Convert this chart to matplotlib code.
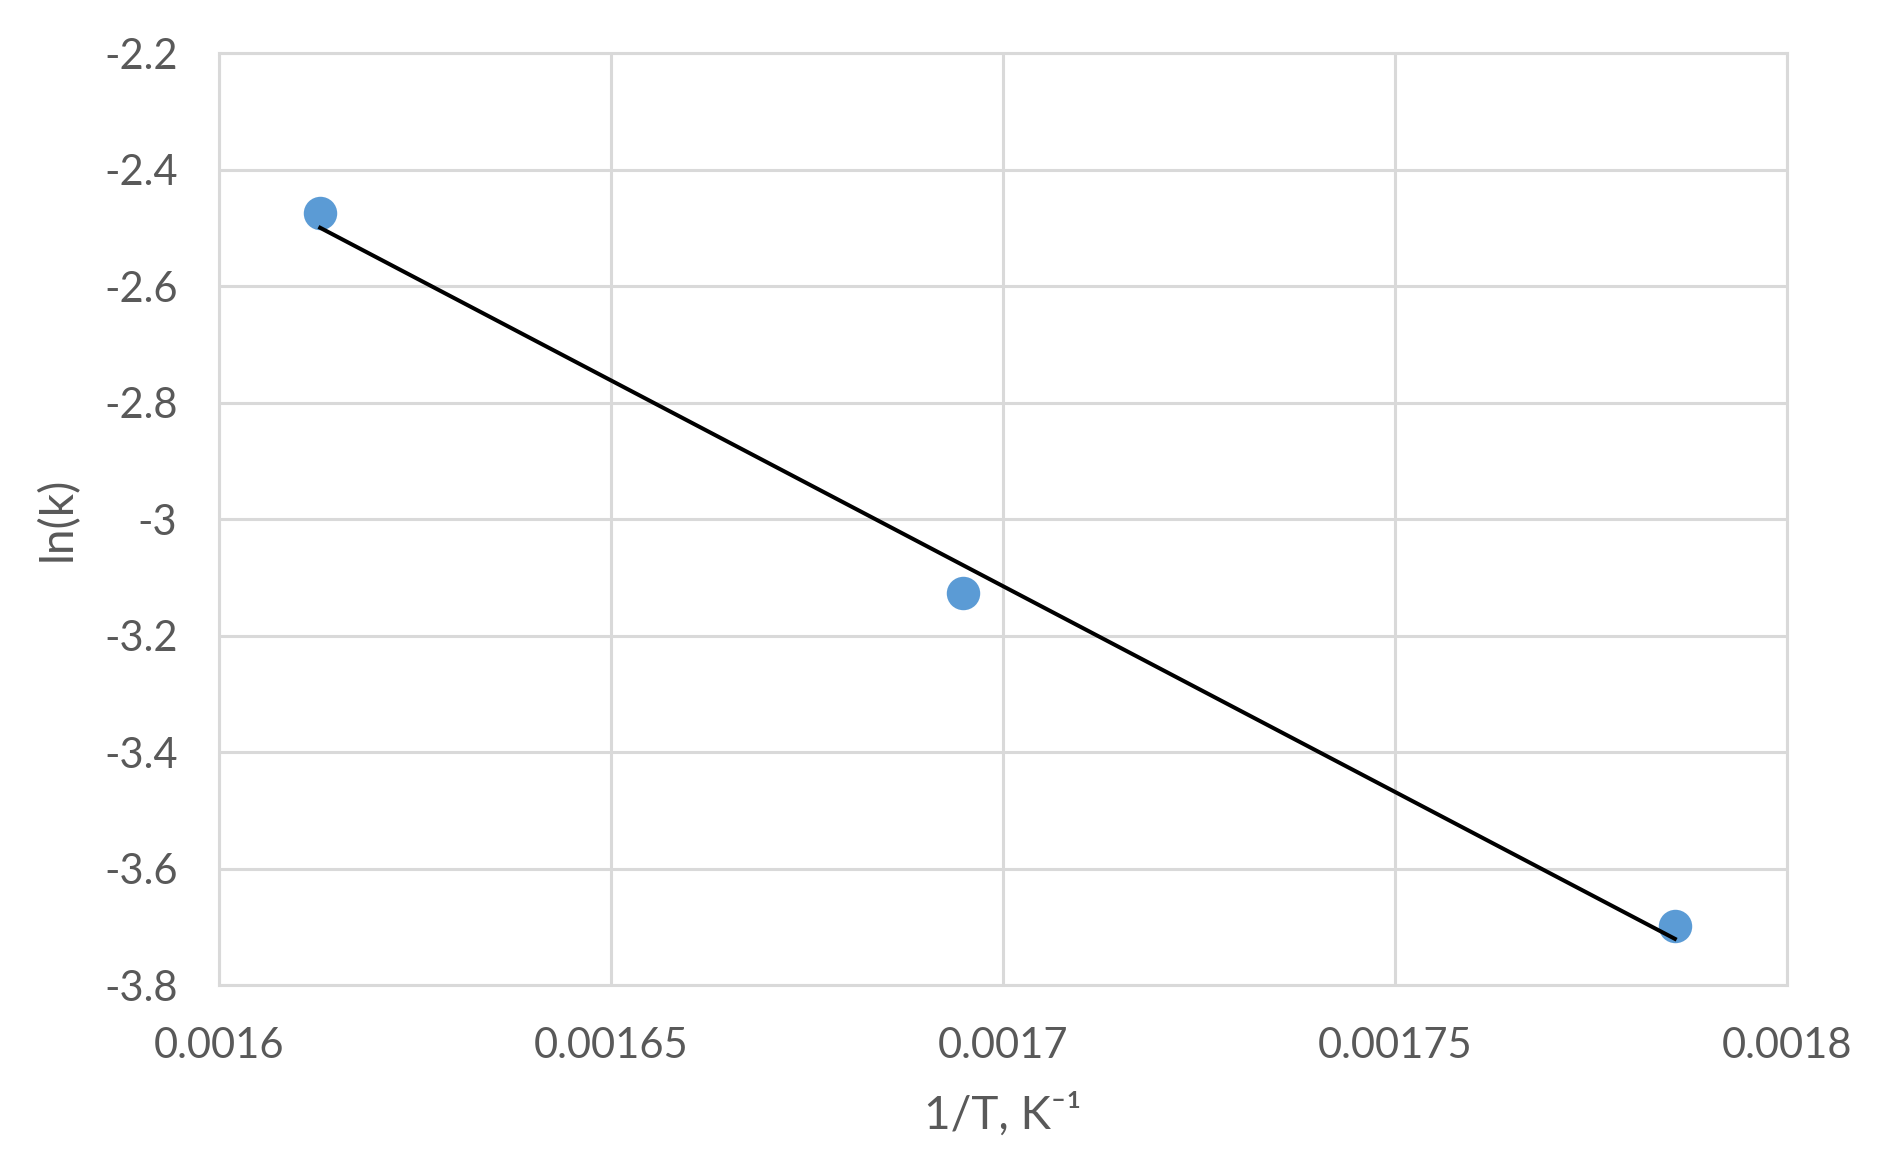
import numpy as np
import matplotlib.pyplot as plt

plt.rcParams['font.family'] = ['Lato', 'DejaVu Sans']

# data
inv_T = [0.0016129, 0.0016949, 0.0017857]
ln_k = [-2.475, -3.127, -3.698]

x_ticks = [0.0016, 0.00165, 0.0017, 0.00175, 0.0018]
x_tick_labels = ['0.0016', '0.00165', '0.0017', '0.00175', '0.0018']
y_ticks = [-3.8, -3.6, -3.4, -3.2, -3.0, -2.8, -2.6, -2.4, -2.2]
y_tick_labels = ['-3.8', '-3.6', '-3.4', '-3.2', '-3', '-2.8', '-2.6', '-2.4', '-2.2']

txt = '#595959'
grid = '#d9d9d9'

fig = plt.figure(figsize=(18.79, 11.65), dpi=100)
ax = fig.add_axes([0.1166, 0.1545, 0.8344, 0.8])

ax.set_xlim(0.0016, 0.0018)
ax.set_ylim(-3.8, -2.2)
ax.set_xticks(x_ticks)
ax.set_xticklabels(x_tick_labels)
ax.set_yticks(y_ticks)
ax.set_yticklabels(y_tick_labels)
ax.grid(True, color=grid, linewidth=2.2)
ax.set_axisbelow(True)
for s in ax.spines.values():
    s.set_color(grid)
    s.set_linewidth(2.2)
ax.tick_params(length=0, labelsize=30, labelcolor=txt)
ax.tick_params(axis='x', pad=30)
ax.tick_params(axis='y', pad=30)

# linear trendline
m, b = np.polyfit(inv_T, ln_k, 1)
xs = np.array([inv_T[0], inv_T[-1]])
ax.scatter(inv_T, ln_k, s=580, color='#5b9bd5', zorder=3, linewidths=0)
ax.plot(xs, m * xs + b, color='black', linewidth=2.9, zorder=4)

ax.set_xlabel('1/T, K\u207b\u00b9', fontsize=33, color=txt, labelpad=20)
ax.set_ylabel('ln(k)', fontsize=33, color=txt, labelpad=18)

fig.savefig('out.png', dpi=100)
